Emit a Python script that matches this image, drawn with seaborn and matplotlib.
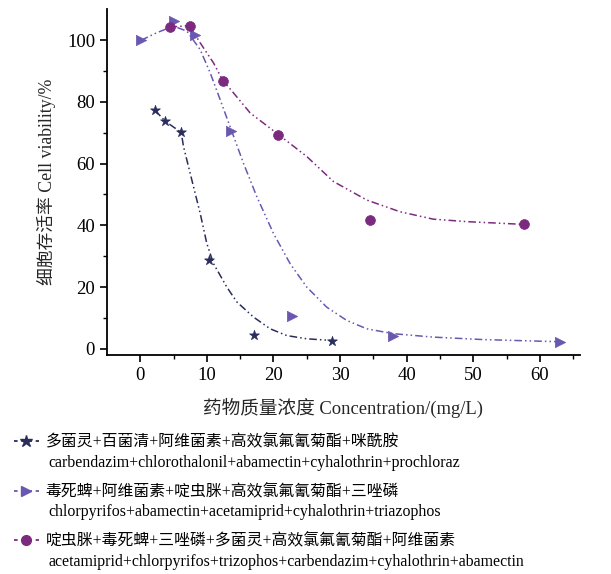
import numpy as np
import pandas as pd
import matplotlib
matplotlib.use("Agg")
import matplotlib.pyplot as plt
from matplotlib.lines import Line2D
import seaborn as sns

# measured points
star_x = [2.25, 3.75, 6.15, 10.25, 17.15, 28.85]
star_y = [77.2, 73.7, 70.1, 28.7, 4.5, 2.5]
tri_x = [0.1, 5.0, 8.25, 13.65, 22.75, 38.0, 63.0]
tri_y = [99.9, 106.1, 101.6, 70.6, 10.5, 4.3, 2.2]
dot_x = [4.4, 7.4, 12.4, 20.75, 34.5, 57.6]
dot_y = [104.2, 104.7, 86.9, 69.4, 41.7, 40.3]

# fitted curves
star_fit_x = [2.25, 3.75, 6.15, 6.5, 8.0, 9.0, 10.0, 11.0, 13.0, 14.5, 17.0, 19.5, 22.0, 25.0, 28.85]
star_fit_y = [77.2, 73.7, 70.1, 65.5, 52.5, 43.9, 34.1, 27.6, 20.0, 15.2, 10.3, 6.5, 4.3, 3.25, 2.7]
tri_fit_x = [0.1, 2.5, 5.0, 7.0, 9.0, 10.5, 12.0, 13.65, 15.5, 17.5, 20.0, 22.5, 25.0, 28.0,
             31.0, 34.0, 38.0, 44.0, 51.5, 63.0]
tri_fit_y = [99.9, 102.4, 104.5, 102.9, 96.9, 89.4, 80.7, 71.0, 60.1, 49.3, 37.4, 27.6, 20.0, 13.5,
             9.2, 6.5, 4.9, 3.8, 3.0, 2.3]
dot_fit_x = [4.4, 7.4, 9.0, 11.0, 12.4, 14.0, 16.5, 20.75, 25.0, 29.0, 34.0, 39.0, 44.0, 49.0, 57.6]
dot_fit_y = [104.2, 104.7, 99.1, 92.6, 86.9, 82.9, 76.4, 69.4, 62.3, 54.2, 48.2, 44.4, 42.0, 41.2, 40.3]

labels_cn = [
    "多菌灵+百菌清+阿维菌素+高效氯氟氰菊酯+咪酰胺",
    "毒死蜱+阿维菌素+啶虫脒+高效氯氟氰菊酯+三唑磷",
    "啶虫脒+毒死蜱+三唑磷+多菌灵+高效氯氟氰菊酯+阿维菌素",
]
labels_en = [
    "carbendazim+chlorothalonil+abamectin+cyhalothrin+prochloraz",
    "chlorpyrifos+abamectin+acetamiprid+cyhalothrin+triazophos",
    "acetamiprid+chlorpyrifos+trizophos+carbendazim+cyhalothrin+abamectin",
]
colors = ["#2a2d5c", "#6a58b0", "#7c2a80"]
markers = ["*", ">", "o"]
sizes = [55, 55, 50]

sns.set_style("ticks")
plt.rcParams["font.family"] = ["Liberation Serif", "Noto Sans CJK SC"]
plt.rcParams["axes.edgecolor"] = "black"
plt.rcParams["text.color"] = "black"
plt.rcParams["xtick.color"] = "black"
plt.rcParams["ytick.color"] = "black"

fig = plt.figure(figsize=(6.11, 5.74), dpi=100)
ax = fig.add_axes([0.175, 0.3815, 0.774, 0.6025])

series = [
    (star_x, star_y, star_fit_x, star_fit_y),
    (tri_x, tri_y, tri_fit_x, tri_fit_y),
    (dot_x, dot_y, dot_fit_x, dot_fit_y),
]
dash = (0, (5, 2, 1, 2, 1, 2))
for (px, py, fx, fy), c, m, s in zip(series, colors, markers, sizes):
    sns.lineplot(x=fx, y=fy, ax=ax, sort=False, color=c, linewidth=1.1, linestyle=dash, estimator=None)
    sns.scatterplot(x=px, y=py, ax=ax, color=c, marker=m, s=s, edgecolor=c, linewidth=0.5, zorder=3)

ax.set_xlim(-5, 66)
ax.set_ylim(-2, 110)
ax.set_xticks(range(0, 70, 10))
ax.set_xticks(range(5, 66, 10), minor=True)
ax.set_yticks(range(0, 101, 20))
ax.set_yticks(range(10, 101, 20), minor=True)
ax.tick_params(axis="both", which="major", labelsize=13.5, length=5, width=1.2, direction="out")
ax.tick_params(axis="both", which="minor", length=3, width=1, direction="out")
for sp in ["left", "bottom"]:
    ax.spines[sp].set_linewidth(1.3)
sns.despine(ax=ax)

ax.set_xlabel("药物质量浓度 Concentration/(mg/L)", fontsize=13.4, labelpad=10)
ax.set_ylabel("细胞存活率 Cell viability/%", fontsize=12.8, labelpad=8)

handles = [Line2D([0], [0], color=c, marker=m, linestyle=(0, (2, 2)), markersize=9 if m == "*" else 7,
                  linewidth=1.3) for c, m in zip(colors, markers)]
leg = fig.legend(handles, labels_cn, loc="upper left", bbox_to_anchor=(0.012, 0.254), frameon=False,
                 fontsize=11.4, handlelength=1.6, handletextpad=0.4, labelspacing=2.12,
                 borderaxespad=0)

# English line under each Chinese label
fig.canvas.draw()
inv = fig.transFigure.inverted()
for txt, en in zip(leg.get_texts(), labels_en):
    bb = txt.get_window_extent()
    x0, y0 = inv.transform((bb.x0 + 3, bb.y0 - 4))
    fig.text(x0, y0, en, fontsize=11.4, va="top", ha="left")

fig.savefig("out.png", dpi=100)
